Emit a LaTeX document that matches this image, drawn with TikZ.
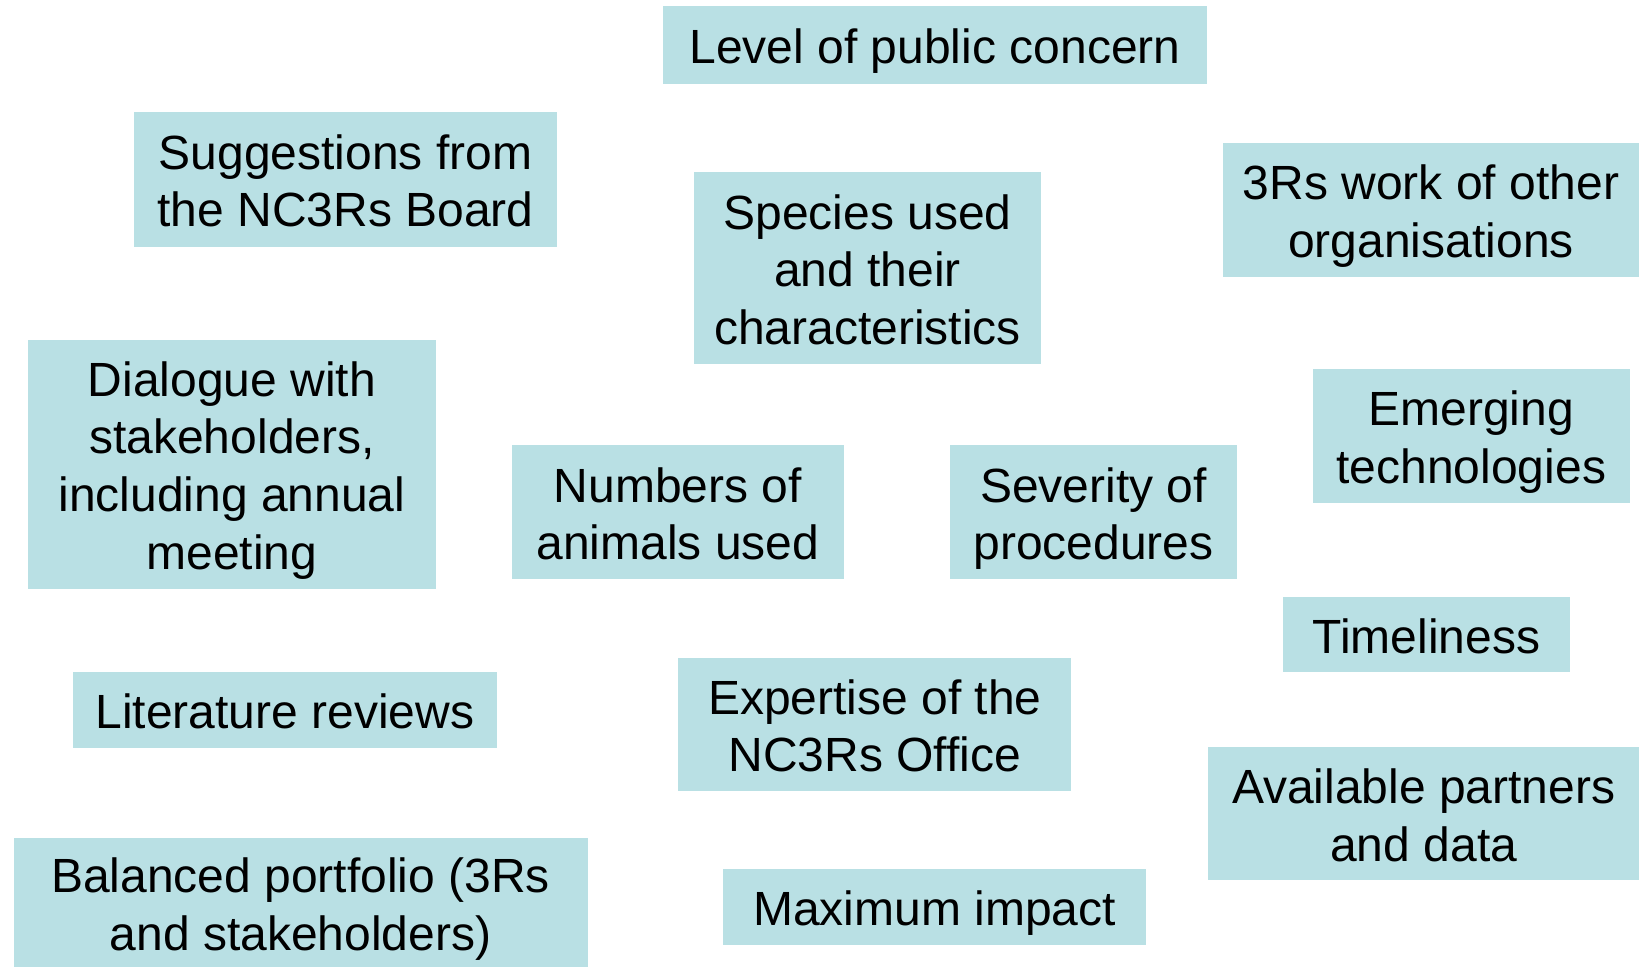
\documentclass[tikz,border=0pt]{standalone}
\usepackage{fontspec}
\setmainfont{Liberation Sans}
\usepackage{tikz}
\usetikzlibrary{positioning}
\definecolor{boxfill}{RGB}{185,224,228}
\tikzstyle{factor} = [rectangle, fill = boxfill, align = flush center, inner sep = 0pt, execute at begin node = {\rule{0pt}{24pt}}, execute at end node = {\rule[-5.4pt]{0pt}{5.4pt}}]

\begin{document}
\begin{tikzpicture}[
x=0.5pt,y=-0.5pt,
font=\fontsize{24}{28.8}\selectfont]

\useasboundingbox (0,0) rectangle (1639,968);

\node[factor,text width=272.3pt,minimum height=38.7pt] (concern) at (935,45) {Level of public concern};
\node[factor,text width=211.7pt,minimum height=67.5pt] (board) at (345.5,179.3) {Suggestions from\\the NC3Rs Board};
\node[factor,text width=173.5pt,minimum height=95.7pt] (species) at (867.6,268.2) {Species used\\and their\\characteristics};
\node[factor,text width=208pt,minimum height=66.9pt] (others) at (1431,210.1) {3Rs work of other\\organisations};
\node[factor,text width=203.9pt,minimum height=124.4pt] (dialogue) at (232,464.1) {Dialogue with\\stakeholders,\\including annual\\meeting};
\node[factor,text width=165.7pt,minimum height=66.9pt] (numbers) at (677.9,512.2) {Numbers of\\animals used};
\node[factor,text width=143.2pt,minimum height=66.9pt] (severity) at (1093.4,512.2) {Severity of\\procedures};
\node[factor,text width=158.4pt,minimum height=66.9pt] (emerging) at (1471.3,435.9) {Emerging\\technologies};
\node[factor,text width=143.7pt,minimum height=37.6pt] (timeliness) at (1426.3,634.5) {Timeliness};
\node[factor,text width=211.7pt,minimum height=37.7pt] (literature) at (284.9,709.8) {Literature reviews};
\node[factor,text width=196.5pt,minimum height=66.9pt] (expertise) at (874.9,724.4) {Expertise of the\\NC3Rs Office};
\node[factor,text width=215.3pt,minimum height=66.4pt] (partners) at (1423.7,813.8) {Available partners\\and data};
\node[factor,text width=287pt,minimum height=64.6pt] (portfolio) at (300.6,902.7) {Balanced portfolio (3Rs\\and stakeholders)};
\node[factor,text width=211.2pt,minimum height=38.2pt] (impact) at (934.6,906.8) {Maximum impact};
\end{tikzpicture}
\end{document}
